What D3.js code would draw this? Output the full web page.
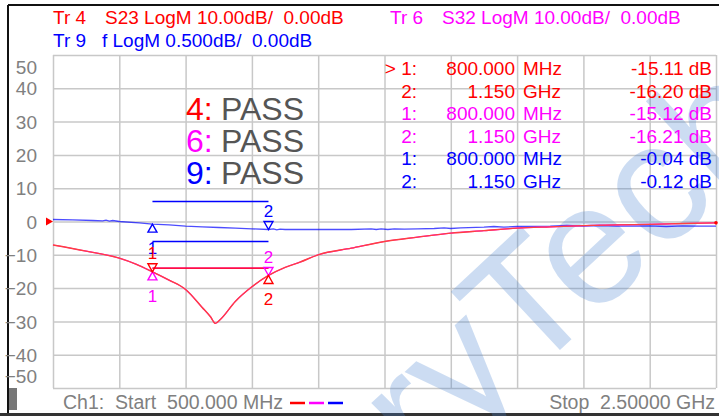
<!DOCTYPE html>
<html>
<head>
<meta charset="utf-8">
<script src="https://cdn.jsdelivr.net/npm/d3@7"></script>
<style>
  html, body { margin: 0; padding: 0; background: #fff; }
  svg { display: block; font-family: "Liberation Sans", Arial, sans-serif; }
  svg text { white-space: pre; }
</style>
</head>
<body>
<div id="chart"></div>
<script>
// VNA screen: S23 / S32 / filtered trace with limit lines and markers

// --- data ---
const s23Freq = [500, 600, 700, 750, 800, 850, 900, 950, 975, 990, 1005, 1050, 1100, 1150, 1200, 1245, 1300, 1400, 1500, 1600, 1700, 1800, 1900, 2000, 2100, 2200, 2300, 2400, 2500];
const s23Db   = [-7.05, -8.9, -11.0, -12.8, -15.11, -17.6, -20.4, -25.8, -28.6, -30.6, -29.4, -24.0, -19.6, -16.20, -13.8, -12.2, -10.0, -8.0, -6.0, -4.7, -3.5, -2.75, -2.0, -1.6, -1.25, -1.0, -0.85, -0.6, -0.4];
const s32Db   = [-7.05, -8.9, -11.0, -12.8, -15.12, -17.6, -20.4, -25.8, -28.6, -30.6, -29.4, -24.0, -19.6, -16.21, -13.8, -12.2, -10.0, -8.0, -6.0, -4.7, -3.5, -2.75, -2.0, -1.6, -1.25, -1.0, -0.85, -0.6, -0.4];

const fFreq = [500, 560, 620, 650, 660, 670, 680, 700, 760, 800, 850, 900, 950, 1000, 1050, 1100, 1150, 1165, 1175, 1185, 1200, 1250, 1300, 1400, 1460, 1475, 1490, 1510, 1530, 1560, 1600, 1650, 1680, 1700, 1730, 1800, 1830, 1860, 1900, 2000, 2050, 2100, 2150, 2200, 2300, 2350, 2400, 2450, 2500];
const fDb   = [0.03, 0.025, 0.015, 0.01, 0.02, 0.005, 0.015, 0.0, -0.02, -0.04, -0.05, -0.07, -0.08, -0.09, -0.10, -0.11, -0.12, -0.11, -0.125, -0.115, -0.12, -0.12, -0.12, -0.12, -0.11, -0.12, -0.11, -0.12, -0.11, -0.115, -0.11, -0.105, -0.095, -0.105, -0.095, -0.085, -0.075, -0.085, -0.075, -0.07, -0.06, -0.07, -0.06, -0.07, -0.065, -0.075, -0.065, -0.07, -0.07];

const markerFreq = [800, 1150];
const s23Marker = [-15.11, -16.20];
const s32Marker = [-15.12, -16.21];
const fMarker   = [-0.04, -0.12];

const limitFreq = [800, 1150];
const s23Limit = -14;
const fLimitHi = 0.3, fLimitLo = -0.3;

const xTicks = [500, 700, 900, 1100, 1300, 1500, 1700, 1900, 2100, 2300, 2500];
const yTicks = [50, 40, 30, 20, 10, 0, -10, -20, -30, -40, -50];
const passTraces = ["4", "6", "9"];

const RED = "#ff0000", MAG = "#ff00ff", BLUE = "#0000ff", GRAY = "#808080";

// --- layout ---
const W = 719, H = 416;
const plot = { left: 53, right: 716, top: 55, bottom: 388 };

const svg = d3.select("#chart").append("svg").attr("width", W).attr("height", H);
svg.append("rect").attr("width", W).attr("height", H).attr("fill", "#fff");

const x  = d3.scaleLinear().domain([500, 2500]).range([plot.left, plot.right]);
const yS = d3.scaleLinear().domain([-50, 50]).range([plot.bottom, plot.top]);   // 10 dB/div
const yB = d3.scaleLinear().domain([-2.5, 2.5]).range([plot.bottom, plot.top]); // 0.5 dB/div

// frame
svg.append("line").attr("x1", 8).attr("x2", W).attr("y1", 5).attr("y2", 5).attr("stroke", "#111").attr("stroke-width", 2);
svg.append("line").attr("x1", 8).attr("x2", 8).attr("y1", 5).attr("y2", 414).attr("stroke", "#111").attr("stroke-width", 2);
svg.append("rect").attr("x", 0).attr("y", 413).attr("width", W).attr("height", 3).attr("fill", "#333");
svg.append("rect").attr("x", 9).attr("y", 388).attr("width", 8).attr("height", 22).attr("fill", "#777");

// grid
svg.append("g").attr("transform", `translate(0,${plot.bottom})`)
  .call(d3.axisBottom(x).tickValues(xTicks).tickSize(-(plot.bottom - plot.top)).tickFormat(""))
  .call(g => g.select(".domain").remove())
  .selectAll(".tick line").attr("stroke", "#c8c8c8").attr("stroke-width", 1.5);

const yAxis = svg.append("g").attr("transform", `translate(${plot.left},0)`)
  .call(d3.axisLeft(yS).tickValues(yTicks).tickSize(-(plot.right - plot.left)).tickPadding(16).tickFormat(d3.format("d")));
yAxis.select(".domain").remove();
yAxis.selectAll(".tick line").attr("stroke", "#c8c8c8").attr("stroke-width", 1.5);
yAxis.selectAll(".tick text")
  .attr("fill", GRAY).attr("font-size", 19).attr("font-family", "Liberation Sans, Arial, sans-serif")
  .attr("dy", d => d === 50 ? "0.95em" : d === -50 ? "-0.27em" : "0.35em");

// watermark
svg.append("text")
  .attr("transform", "translate(355,541) rotate(-43)")
  .attr("font-size", 170).attr("fill", "#4682d2").attr("opacity", 0.27)
  .text("aryTech");

// header
function header(xp, y, tr, rest, color, restX) {
  svg.append("text").attr("x", xp).attr("y", y).attr("fill", color).attr("font-size", 19).text(tr);
  svg.append("text").attr("x", restX).attr("y", y).attr("fill", color).attr("font-size", 19).text(rest);
}
header(53, 24, "Tr 4", "S23 LogM 10.00dB/  0.00dB", RED, 105);
header(390, 24, "Tr 6", "S32 LogM 10.00dB/  0.00dB", MAG, 442);
header(53, 47, "Tr 9", "f LogM 0.500dB/  0.00dB", BLUE, 102);

// PASS
const passColors = [RED, MAG, BLUE];
passTraces.forEach((t, i) => {
  const y = 120 + i * 32;
  svg.append("text").attr("x", 186).attr("y", y).attr("font-size", 32).attr("fill", passColors[i]).text(t + ":");
  svg.append("text").attr("x", 221).attr("y", y).attr("font-size", 32).attr("fill", "#555").text("PASS");
});

// marker table
const fmtF = f => f < 1000 ? [d3.format(".3f")(f), "MHz"] : [d3.format(".3f")(f / 1000), "GHz"];
const rows = [];
[[s23Marker, RED], [s32Marker, MAG], [fMarker, BLUE]].forEach(([vals, c], ti) => {
  vals.forEach((v, mi) => rows.push({ idx: (ti === 0 && mi === 0 ? "> " : "") + (mi + 1) + ":", f: fmtF(markerFreq[mi]), v: v.toFixed(2) + " dB", c }));
});
rows.forEach((r, i) => {
  const y = 75 + i * 22.5;
  const t = (xp, anchor, s) => svg.append("text").attr("x", xp).attr("y", y).attr("text-anchor", anchor)
    .attr("font-size", 19).attr("fill", r.c).text(s);
  t(417, "end", r.idx);
  t(515, "end", r.f[0]);
  t(523, "start", r.f[1]);
  t(712, "end", r.v);
});

// limit lines
const lim = (yv, scale, color) => svg.append("line")
  .attr("x1", x(limitFreq[0])).attr("x2", x(limitFreq[1]))
  .attr("y1", scale(yv)).attr("y2", scale(yv))
  .attr("stroke", color).attr("stroke-width", 1.4);
lim(s23Limit, yS, MAG);
lim(s23Limit, yS, RED);
lim(fLimitHi, yB, BLUE);
lim(fLimitLo, yB, BLUE);

// traces
const lineS = d3.line().x(d => x(d[0])).y(d => yS(d[1])).curve(d3.curveMonotoneX);
const lineB = d3.line().x(d => x(d[0])).y(d => yB(d[1]));
svg.append("path").attr("d", lineB(d3.zip(fFreq, fDb))).attr("fill", "none").attr("stroke", BLUE).attr("stroke-width", 1.3).attr("opacity", 0.7);
svg.append("path").attr("d", lineS(d3.zip(s23Freq, s32Db))).attr("fill", "none").attr("stroke", MAG).attr("stroke-width", 1.2);
svg.append("path").attr("d", lineS(d3.zip(s23Freq, s23Db))).attr("fill", "none").attr("stroke", "#ff4040").attr("stroke-width", 1.4);

// reference arrow + end dot
svg.append("path").attr("d", `M${plot.left - 7},${yS(0) - 4} L${plot.left},${yS(0)} L${plot.left - 7},${yS(0) + 4} Z`).attr("fill", RED);
svg.append("circle").attr("cx", x(2500)).attr("cy", yS(s23Db[s23Db.length - 1])).attr("r", 1.8).attr("fill", RED);

// markers
function marker(f, v, scale, color, up, label) {
  const px = x(f), py = scale(v);
  const d = up ? `M${px},${py} L${px - 4.5},${py + 8} L${px + 4.5},${py + 8} Z`
               : `M${px},${py} L${px - 4.5},${py - 8} L${px + 4.5},${py - 8} Z`;
  svg.append("path").attr("d", d).attr("fill", "none").attr("stroke", color).attr("stroke-width", 1.4);
  svg.append("text").attr("x", px).attr("y", up ? py + 30 : py - 12.5).attr("text-anchor", "middle")
    .attr("font-size", 17).attr("fill", color).text(label);
}
marker(markerFreq[0], fMarker[0], yB, BLUE, true, "1");
marker(markerFreq[1], fMarker[1], yB, BLUE, false, "2");
marker(markerFreq[0], s32Marker[0], yS, MAG, true, "1");
marker(markerFreq[1], s32Marker[1], yS, MAG, false, "2");
marker(markerFreq[0], s23Marker[0], yS, RED, false, "1");
marker(markerFreq[1], s23Marker[1], yS, RED, true, "2");

// footer
svg.append("text").attr("x", 63).attr("y", 409).attr("font-size", 19.5).attr("fill", GRAY)
  .text("Ch1:  Start  500.000 MHz");
[RED, MAG, BLUE].forEach((c, i) => svg.append("line")
  .attr("x1", 290 + i * 19).attr("x2", 305 + i * 19).attr("y1", 403).attr("y2", 403)
  .attr("stroke", c).attr("stroke-width", 2.5));
svg.append("text").attr("x", 715).attr("y", 409).attr("text-anchor", "end").attr("font-size", 19.5).attr("fill", GRAY)
  .text("Stop  2.50000 GHz");
</script>
</body>
</html>
